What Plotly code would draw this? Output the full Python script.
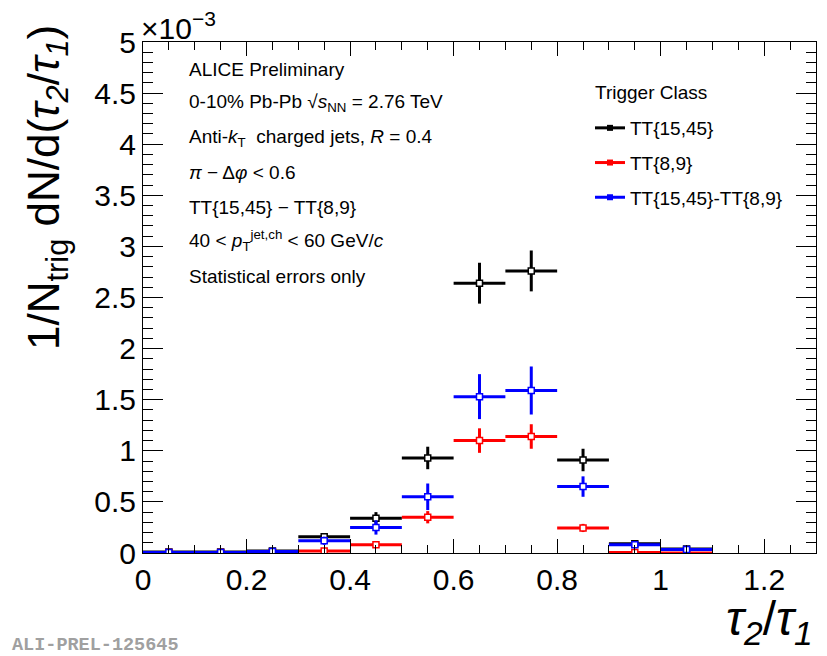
import plotly.graph_objects as go

# bin centres of tau2/tau1
tau_centers = [0.05, 0.15, 0.25, 0.35, 0.45, 0.55, 0.65, 0.75, 0.85, 0.95, 1.05]
bin_half_width = 0.05

# values in units of 1e-3
tt_high = [0.01, 0.01, 0.02, 0.16, 0.34, 0.93, 2.64, 2.76, 0.91, 0.09, 0.04]
tt_high_err = [0.005, 0.005, 0.01, 0.03, 0.06, 0.11, 0.2, 0.2, 0.11, 0.02, 0.01]

tt_low = [0.005, 0.005, 0.01, 0.02, 0.08, 0.35, 1.10, 1.14, 0.245, 0.005, 0.0]
tt_low_err = [0.003, 0.003, 0.005, 0.02, 0.03, 0.06, 0.12, 0.12, 0.04, 0.005, 0.0]

tt_diff = [0.005, 0.005, 0.015, 0.12, 0.25, 0.55, 1.53, 1.59, 0.65, 0.08, 0.035]
tt_diff_err = [0.005, 0.005, 0.01, 0.04, 0.07, 0.13, 0.22, 0.235, 0.1, 0.02, 0.01]

series_names = ["TT{15,45}", "TT{8,9}", "TT{15,45}-TT{8,9}"]
series_colors = ["#000000", "#ff0000", "#0000ff"]

y_ticks = [0, 0.5, 1, 1.5, 2, 2.5, 3, 3.5, 4, 4.5, 5]
y_ticklabels = ["0", "0.5", "1", "1.5", "2", "2.5", "3", "3.5", "4", "4.5", "5"]
x_ticks = [0, 0.2, 0.4, 0.6, 0.8, 1.0, 1.2]
x_ticklabels = ["0", "0.2", "0.4", "0.6", "0.8", "1", "1.2"]

info_lines = [
    "ALICE Preliminary",
    "0-10% Pb-Pb √<i>s</i><sub>NN</sub> = 2.76 TeV",
    "Anti-<i>k</i><sub>T</sub>  charged jets, <i>R</i> = 0.4",
    "<i>π</i> − Δ<i>φ</i> &lt; 0.6",
    "TT{15,45} − TT{8,9}",
    "40 &lt; <i>p</i><sub>T</sub><sup>jet,ch</sup> &lt; 60 GeV/<i>c</i>",
    "Statistical errors only",
]

FONT = "Liberation Sans, Arial, Helvetica, sans-serif"

fig = go.Figure()

for vals, errs, name, col in zip([tt_high, tt_low, tt_diff],
                                 [tt_high_err, tt_low_err, tt_diff_err],
                                 series_names, series_colors):
    fig.add_trace(go.Scatter(
        x=tau_centers, y=vals, mode="markers", showlegend=False,
        marker=dict(symbol="square", size=6, color="white",
                    line=dict(color=col, width=1.5)),
        error_x=dict(type="constant", value=bin_half_width, color=col,
                     thickness=3, width=0),
        error_y=dict(type="data", array=errs, color=col, thickness=3, width=0),
    ))

for i, (name, col) in enumerate(zip(series_names, series_colors)):
    fig.add_trace(go.Scatter(
        x=[None], y=[None], mode="lines+markers", name=name,
        legendgroup=f"g{i}",
        line=dict(color=col, width=3),
        marker=dict(symbol="square", size=6, color=col),
    ))

# the page body adds an 8px offset; lay out in reference-pixel coordinates
OFF = 8
W, H = 827, 656
ref_l, ref_r, ref_t, ref_b = 143, 816, 42, 553
pw, ph = ref_r - ref_l, ref_b - ref_t

def px_x(p):
    return (p - ref_l) / pw

def px_y(p):
    return (ref_b - p) / ph

annotations = []
line_y = [69, 103, 138, 172, 207, 240, 276]
for txt, yy in zip(info_lines, line_y):
    annotations.append(dict(
        text=txt, xref="paper", yref="paper", x=px_x(187), y=px_y(yy),
        xanchor="left", yanchor="middle", showarrow=False,
        font=dict(family=FONT, size=19, color="black")))

annotations.append(dict(
    text="Trigger Class", xref="paper", yref="paper", x=px_x(593), y=px_y(92),
    xanchor="left", yanchor="middle", showarrow=False,
    font=dict(family=FONT, size=19, color="black")))

annotations.append(dict(
    text="×10<sup>−3</sup>", xref="paper", yref="paper", x=px_x(139), y=px_y(47),
    xanchor="left", yanchor="bottom", showarrow=False,
    font=dict(family=FONT, size=30, color="black")))

annotations.append(dict(
    text="1/N<sub>trig</sub> dN/d(<i>τ</i><sub><i>2</i></sub>/<i>τ</i><sub><i>1</i></sub>)",
    xref="paper", yref="paper", x=px_x(47), y=px_y(188),
    xanchor="center", yanchor="middle", textangle=-90, showarrow=False,
    font=dict(family=FONT, size=44, color="black")))

annotations.append(dict(
    text="<i>τ</i><sub><i>2</i></sub>/<i>τ</i><sub><i>1</i></sub>",
    xref="paper", yref="paper", x=px_x(815), y=px_y(622),
    xanchor="right", yanchor="middle", showarrow=False,
    font=dict(family=FONT, size=48, color="black")))

annotations.append(dict(
    text="<b>ALI-PREL-125645</b>", xref="paper", yref="paper",
    x=px_x(10), y=px_y(645), xanchor="left", yanchor="middle", showarrow=False,
    font=dict(family="Liberation Mono, Courier New, monospace", size=18.5, color="#a0a0a0")))

fig.update_layout(
    width=W - OFF, height=H - OFF,
    margin=dict(l=ref_l - OFF, r=W - ref_r, t=ref_t - OFF, b=H - ref_b, pad=0),
    paper_bgcolor="white", plot_bgcolor="white",
    font=dict(family=FONT, color="black"),
    annotations=annotations,
    legend=dict(
        font=dict(family=FONT, size=19, color="black"),
        x=px_x(590), y=px_y(109), xanchor="left", yanchor="top",
        bgcolor="rgba(0,0,0,0)", tracegroupgap=7, itemwidth=30,
    ),
)

fig.update_xaxes(
    range=[0, 1.3], tickvals=x_ticks, ticktext=x_ticklabels,
    ticks="inside", ticklen=14, tickwidth=1, tickcolor="black",
    showline=True, linecolor="black", linewidth=1, mirror="allticks",
    showgrid=False, zeroline=False,
    tickfont=dict(family=FONT, size=30, color="black"),
    minor=dict(ticks="inside", ticklen=8, dtick=0.05, tick0=0, tickcolor="black", showgrid=False),
)
fig.update_yaxes(
    range=[0, 5], tickvals=y_ticks, ticktext=y_ticklabels,
    ticks="inside", ticklen=20, tickwidth=1, tickcolor="black",
    showline=True, linecolor="black", linewidth=1, mirror="allticks",
    showgrid=False, zeroline=False,
    tickfont=dict(family=FONT, size=30, color="black"),
    minor=dict(ticks="inside", ticklen=10, dtick=0.1, tick0=0, tickcolor="black", showgrid=False),
)

fig.write_html("out.html")
